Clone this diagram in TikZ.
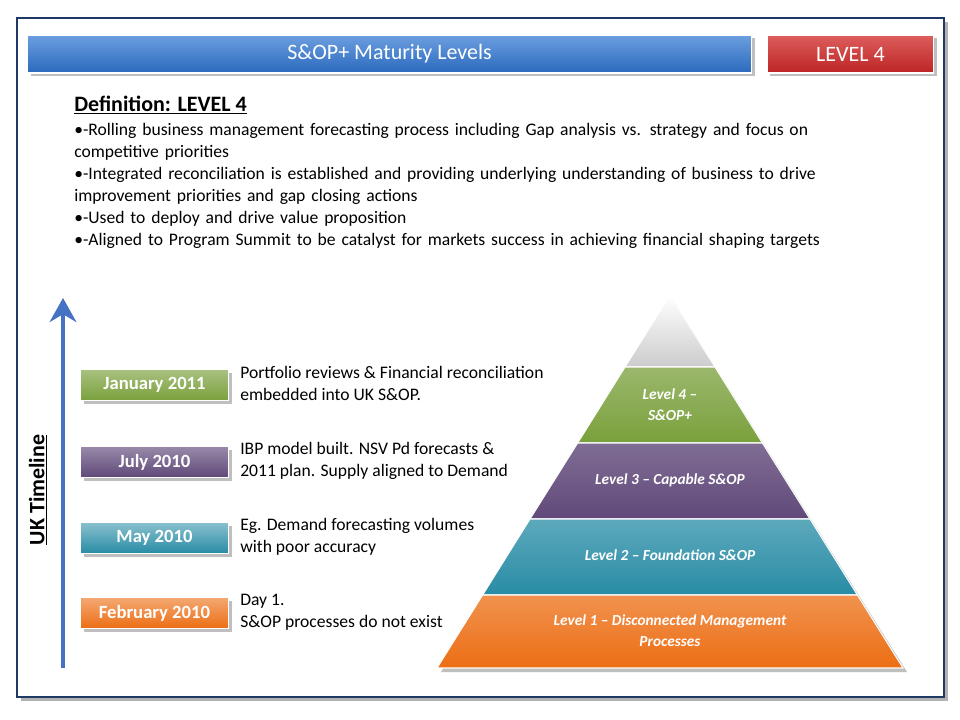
\documentclass[tikz,border=0pt]{standalone}
\usepackage{fontspec}
\setmainfont{Carlito}
\usetikzlibrary{positioning,arrows.meta,shadows}
\definecolor{frameblue}{RGB}{31,56,100}
\definecolor{barblue}{RGB}{46,117,210}
\definecolor{barred}{RGB}{210,40,40}
\definecolor{lvgreen}{RGB}{122,160,60}
\definecolor{lvpurple}{RGB}{96,73,122}
\definecolor{lvteal}{RGB}{40,140,165}
\definecolor{lvorange}{RGB}{236,110,20}
\definecolor{arrowblue}{RGB}{70,114,196}
\tikzset{
  bar/.style={draw=white, thick, text=white, font=\fontsize{16.5}{19}\selectfont, minimum height=28.5pt, inner sep=0pt, drop shadow},
  datebox/.style={draw=white, thick, text=white, font=\bfseries\fontsize{14}{16}\selectfont, minimum width=111pt, minimum height=23pt, inner sep=0pt, drop shadow},
  note/.style={anchor=north west, align=left, font=\fontsize{13.2}{16.5}\selectfont, inner sep=0pt},
  lvlabel/.style={text=white, font=\itshape\bfseries\fontsize{11.5}{16}\selectfont, align=center}
}
\begin{document}
\begin{tikzpicture}[x=0.75pt,y=-0.75pt]
  \useasboundingbox (0,0) rectangle (960,720);
  \fill[white] (0,0) rectangle (960,720);
  % frame
  \fill[black!30] (21,22) rectangle (948,701);
  \draw[frameblue, line width=2pt, fill=white] (17,18) rectangle (944,697);
  % header bars
  \node[bar, top color=barblue!70, bottom color=barblue!90!black, minimum width=543pt] (title) at (389.5,54) {S\&OP+ Maturity Levels};
  \node[bar, top color=barred!75, bottom color=barred!90!black, minimum width=125pt] (level) at (850.5,54) {LEVEL 4};
  % definition
  \node[note, font=\bfseries\fontsize{16.5}{19}\selectfont] (deftitle) at (74,96) {\underline{Definition: LEVEL 4}};
  \node[note, text width=572pt] (deftext) at (74,123) {%
    •-Rolling business management forecasting process including Gap analysis vs. strategy and focus on competitive priorities\\
    •-Integrated reconciliation is established and providing underlying understanding of business to drive improvement priorities and gap closing actions\\
    •-Used to deploy and drive value proposition\\
    •-Aligned to Program Summit to be catalyst for markets success in achieving financial shaping targets};
  % timeline
  \coordinate (tlbot) at (63,668);
  \coordinate (tltop) at (63,298);
  \draw[arrowblue, line width=3.5pt, -{Stealth[length=18pt,width=20pt]}] (tlbot) -- (tltop);
  \node[rotate=90, font=\bfseries\fontsize{16.5}{19}\selectfont] (uk) at (38,490) {\underline{UK Timeline}};
  % dates
  \node[datebox, top color=lvgreen!65, bottom color=lvgreen] (jan) at (154.5,385) {January 2011};
  \node[datebox, top color=lvpurple!65, bottom color=lvpurple] (jul) at (154.5,462) {July 2010};
  \node[datebox, top color=lvteal!55, bottom color=lvteal] (may) at (154.5,538) {May 2010};
  \node[datebox, top color=lvorange!60, bottom color=lvorange] (feb) at (154.5,613) {February 2010};
  \node[note] (jantext) at (240,366) {Portfolio reviews \& Financial reconciliation\\embedded into UK S\&OP.};
  \node[note] (jultext) at (240,442) {IBP model built. NSV Pd forecasts \&\\2011 plan. Supply aligned to Demand};
  \node[note] (maytext) at (240,518) {Eg. Demand forecasting volumes\\with poor accuracy};
  \node[note] (febtext) at (240,594) {Day 1.\\S\&OP processes do not exist};
  % pyramid
  \fill[black!25] (672,298) -- (907,672) -- (441,672) -- cycle;
  \draw[white, thick, top color=white, bottom color=black!20] (670,295) -- (715,367) -- (625,367) -- cycle;
  \draw[white, thick, top color=lvgreen!75, bottom color=lvgreen] (625,367) -- (715,367) -- (762.4,443) -- (577.6,443) -- cycle;
  \draw[white, thick, top color=lvpurple!80, bottom color=lvpurple] (577.6,443) -- (762.4,443) -- (810,519) -- (530,519) -- cycle;
  \draw[white, thick, top color=lvteal!75, bottom color=lvteal] (530,519) -- (810,519) -- (857.4,595) -- (482.6,595) -- cycle;
  \draw[white, thick, top color=lvorange!75, bottom color=lvorange] (482.6,595) -- (857.4,595) -- (903,668) -- (437,668) -- cycle;
  \node[lvlabel] (lv4) at (670,405) {Level 4 --\\S\&OP+};
  \node[lvlabel] (lv3) at (670,480) {Level 3 -- Capable S\&OP};
  \node[lvlabel] (lv2) at (670,555) {Level 2 -- Foundation S\&OP};
  \node[lvlabel] (lv1) at (670,631) {Level 1 -- Disconnected Management\\Processes};
\end{tikzpicture}
\end{document}
